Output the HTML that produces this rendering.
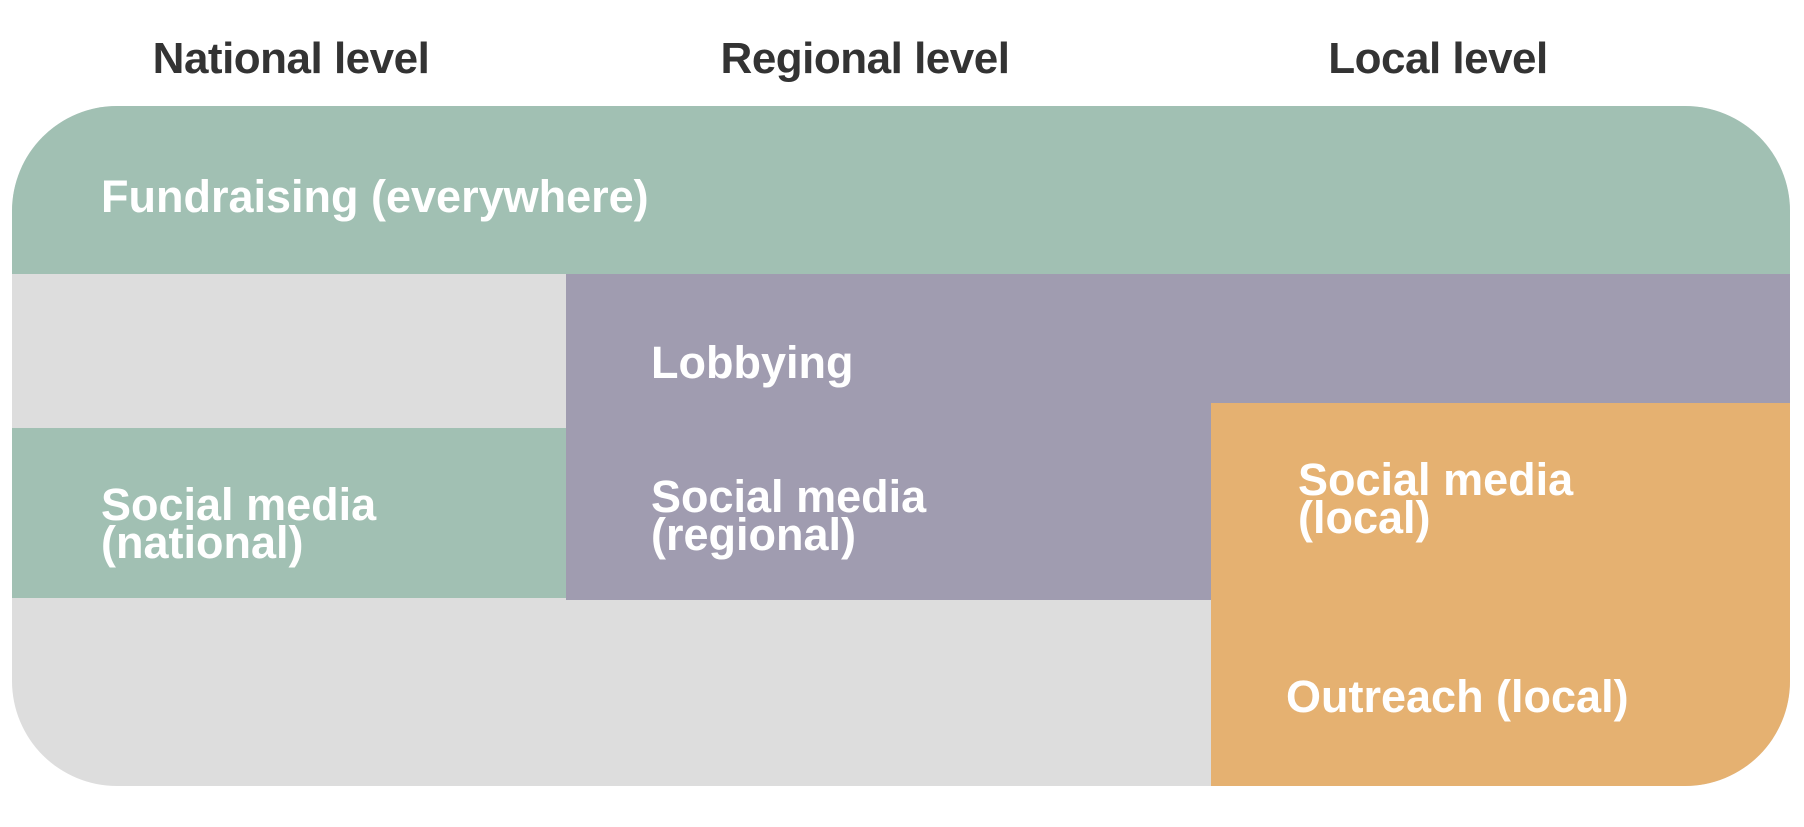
<!DOCTYPE html>
<html><head><meta charset="utf-8"><style>
html,body{margin:0;padding:0;background:#fff;}
body{width:1804px;height:827px;position:relative;overflow:hidden;font-family:"Liberation Sans",sans-serif;}
.t{position:absolute;top:34px;font-size:44px;font-weight:bold;color:#333;transform:translateX(-50%);white-space:nowrap;letter-spacing:-0.5px}
.box{position:absolute;left:12px;top:106px;width:1778px;height:680px;border-radius:105px;overflow:hidden;background:#dddddd;}
.r{position:absolute;}
.l{position:absolute;color:#fff;font-weight:bold;font-size:45px;line-height:38px;white-space:nowrap;letter-spacing:0px}
</style></head><body>
<div class="t" style="left:291px">National level</div>
<div class="t" style="left:865px">Regional level</div>
<div class="t" style="left:1438px">Local level</div>
<div class="box">
  <div class="r" style="left:0;top:0;width:1778px;height:168px;background:#a1c0b3"></div>
  <div class="r" style="left:554px;top:168px;width:1224px;height:326px;background:#a09cb0"></div>
  <div class="r" style="left:0;top:322px;width:554px;height:170px;background:#a1c0b3"></div>
  <div class="r" style="left:1199px;top:297px;width:579px;height:383px;background:#e5b171"></div>
</div>
<div class="l" style="left:101px;top:178px">Fundraising (everywhere)</div>
<div class="l" style="left:651px;top:344px">Lobbying</div>
<div class="l" style="left:101px;top:486px">Social media<br>(national)</div>
<div class="l" style="left:651px;top:478px">Social media<br>(regional)</div>
<div class="l" style="left:1298px;top:461px">Social media<br>(local)</div>
<div class="l" style="left:1286px;top:678px">Outreach (local)</div>
</body></html>
